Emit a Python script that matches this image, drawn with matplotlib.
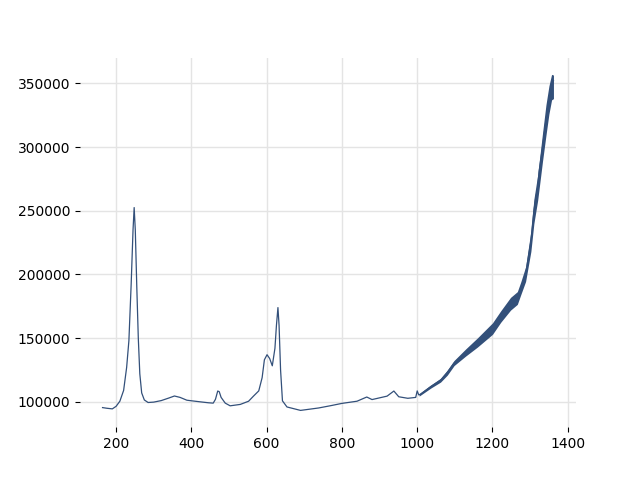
import matplotlib
matplotlib.use("Agg")
import matplotlib.pyplot as plt

# spectrum
wavenumber = [164, 175, 190, 200, 210, 220, 228, 234, 240, 245, 248, 251, 255, 259, 263,
              268, 275, 285, 300, 320, 340, 355, 370, 388, 410, 430, 445, 458, 464, 470,
              474, 479, 490, 503, 530, 552, 565, 579, 588, 594, 601, 608, 615, 622, 626,
              630, 633, 637, 642, 654, 690, 738, 770, 800, 840, 866, 880, 920, 938, 951,
              975, 996, 1000, 1004, 1009, 1036, 1062, 1080, 1098, 1129, 1160, 1200, 1222,
              1240, 1248, 1266, 1275, 1288, 1302, 1310, 1315, 1320, 1324, 1333, 1342, 1350,
              1357, 1362]
intensity = [95500, 95000, 94500, 96500, 100500, 109000, 127000, 148000, 192000, 235000,
             252500, 235000, 190000, 150000, 122000, 107000, 101500, 99500, 99800, 101000,
             103000, 104600, 103500, 101300, 100500, 99800, 99300, 99000, 102000, 108500,
             108000, 103500, 99000, 96900, 98000, 100500, 104500, 108600, 119000, 133000,
             137000, 134000, 128300, 142000, 160000, 174000, 160000, 125000, 100800, 96000,
             93300, 95200, 97000, 98800, 100500, 103800, 101800, 104500, 108500, 104000,
             102800, 103500, 108600, 105500, 106000, 112000, 117000, 123000, 130500, 138800,
             146600, 157500, 167000, 172000, 177000, 181000, 189000, 200000, 226000, 250000,
             260000, 268000, 281000, 300000, 321000, 337000, 348000, 352000]

# noisy envelope in the high wavenumber part
band_x = [1005, 1036, 1062, 1080, 1098, 1129, 1160, 1200, 1222, 1248, 1266, 1275, 1288,
          1302, 1310, 1320, 1333, 1342, 1350, 1357, 1362]
band_lo = [104500, 110800, 115500, 121000, 128500, 136000, 143000, 153000, 162500, 172000,
           176500, 184000, 194500, 218000, 240000, 258000, 289000, 309000, 326000, 337000,
           338000]
band_hi = [106500, 113200, 118500, 125000, 132500, 141600, 150200, 162000, 171500, 182000,
           186500, 194000, 206000, 234000, 259000, 278000, 311000, 333000, 348000, 357000,
           356500]

color = '#33507a'

fig, ax = plt.subplots(figsize=(6.4, 4.8), dpi=100)
ax.plot(wavenumber, intensity, color=color, linewidth=0.9)
ax.fill_between(band_x, band_lo, band_hi, color=color, linewidth=0)

for s in ax.spines.values():
    s.set_visible(False)
ax.grid(True, color='#e4e4e4', linewidth=1)
ax.set_axisbelow(True)

fig.savefig('out.png')
